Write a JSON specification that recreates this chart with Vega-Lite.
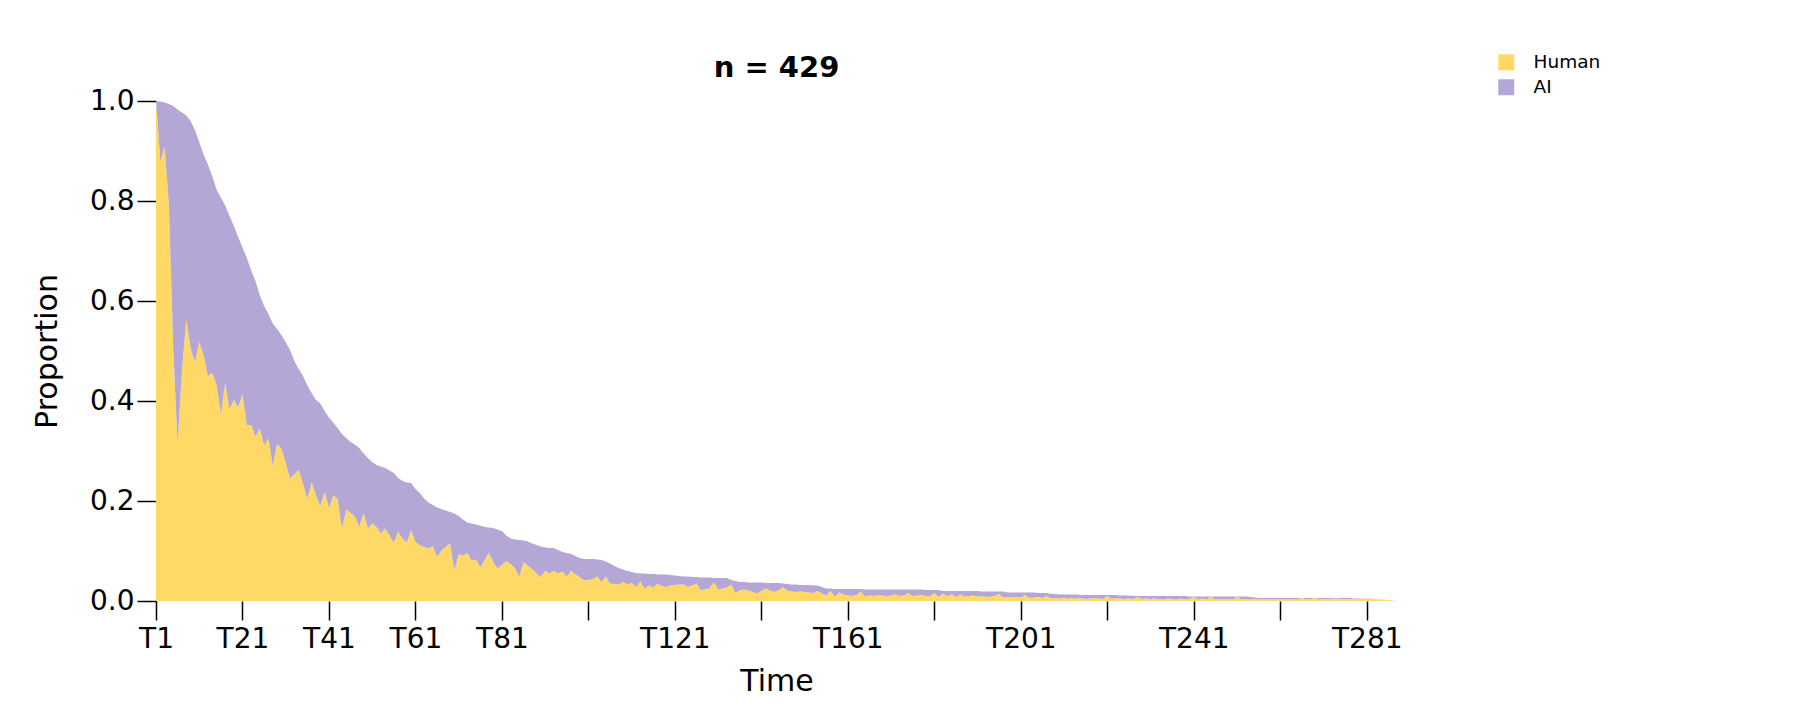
{
"$schema": "https://vega.github.io/schema/vega-lite/v6.json",
"width": 1241, "height": 500,
"autosize": "none",
"padding": {"left": 156, "top": 101, "right": 403, "bottom": 119},
"background": "white",
"config": {"view": {"stroke": null}},
"title": {"text": "n = 429", "font": "DejaVu Sans", "fontSize": 29, "fontWeight": "bold", "color": "black", "anchor": "middle", "frame": "group", "offset": -30},
"data": {"values": [
{"t":1,"Human":1.000,"AI":0.000},{"t":2,"Human":0.880,"AI":0.119},{"t":3,"Human":0.908,"AI":0.089},{"t":4,"Human":0.790,"AI":0.204},{"t":5,"Human":0.500,"AI":0.490},
{"t":6,"Human":0.315,"AI":0.668},{"t":7,"Human":0.460,"AI":0.517},{"t":8,"Human":0.563,"AI":0.408},{"t":9,"Human":0.505,"AI":0.455},{"t":10,"Human":0.478,"AI":0.464},
{"t":11,"Human":0.518,"AI":0.400},{"t":12,"Human":0.492,"AI":0.401},{"t":13,"Human":0.450,"AI":0.423},{"t":14,"Human":0.456,"AI":0.394},{"t":15,"Human":0.432,"AI":0.391},
{"t":16,"Human":0.373,"AI":0.434},{"t":17,"Human":0.436,"AI":0.355},{"t":18,"Human":0.384,"AI":0.386},{"t":19,"Human":0.402,"AI":0.348},{"t":20,"Human":0.387,"AI":0.341},
{"t":21,"Human":0.414,"AI":0.293},{"t":22,"Human":0.352,"AI":0.334},{"t":23,"Human":0.352,"AI":0.310},{"t":24,"Human":0.328,"AI":0.312},{"t":25,"Human":0.345,"AI":0.267},
{"t":26,"Human":0.311,"AI":0.279},{"t":27,"Human":0.325,"AI":0.249},{"t":28,"Human":0.270,"AI":0.285},{"t":29,"Human":0.314,"AI":0.230},{"t":30,"Human":0.305,"AI":0.227},
{"t":31,"Human":0.276,"AI":0.242},{"t":32,"Human":0.245,"AI":0.257},{"t":33,"Human":0.253,"AI":0.227},{"t":34,"Human":0.262,"AI":0.202},{"t":35,"Human":0.235,"AI":0.215},
{"t":36,"Human":0.204,"AI":0.227},{"t":37,"Human":0.238,"AI":0.178},{"t":38,"Human":0.211,"AI":0.191},{"t":39,"Human":0.190,"AI":0.205},{"t":40,"Human":0.218,"AI":0.162},
{"t":41,"Human":0.186,"AI":0.181},{"t":42,"Human":0.211,"AI":0.146},{"t":43,"Human":0.204,"AI":0.142},{"t":44,"Human":0.145,"AI":0.189},{"t":45,"Human":0.183,"AI":0.143},
{"t":46,"Human":0.176,"AI":0.142},{"t":47,"Human":0.169,"AI":0.144},{"t":48,"Human":0.148,"AI":0.158},{"t":49,"Human":0.176,"AI":0.119},{"t":50,"Human":0.145,"AI":0.141},
{"t":51,"Human":0.155,"AI":0.123},{"t":52,"Human":0.148,"AI":0.124},{"t":53,"Human":0.135,"AI":0.134},{"t":54,"Human":0.145,"AI":0.121},{"t":55,"Human":0.131,"AI":0.130},
{"t":56,"Human":0.117,"AI":0.139},{"t":57,"Human":0.138,"AI":0.108},{"t":58,"Human":0.125,"AI":0.115},{"t":59,"Human":0.117,"AI":0.120},{"t":60,"Human":0.142,"AI":0.094},
{"t":61,"Human":0.118,"AI":0.106},{"t":62,"Human":0.112,"AI":0.104},{"t":63,"Human":0.108,"AI":0.097},{"t":64,"Human":0.105,"AI":0.092},{"t":65,"Human":0.110,"AI":0.082},
{"t":66,"Human":0.088,"AI":0.099},{"t":67,"Human":0.101,"AI":0.083},{"t":68,"Human":0.108,"AI":0.073},{"t":69,"Human":0.115,"AI":0.063},{"t":70,"Human":0.061,"AI":0.114},
{"t":71,"Human":0.093,"AI":0.077},{"t":72,"Human":0.091,"AI":0.072},{"t":73,"Human":0.096,"AI":0.061},{"t":74,"Human":0.081,"AI":0.074},{"t":75,"Human":0.083,"AI":0.070},
{"t":76,"Human":0.067,"AI":0.084},{"t":77,"Human":0.082,"AI":0.066},{"t":78,"Human":0.096,"AI":0.051},{"t":79,"Human":0.078,"AI":0.068},{"t":80,"Human":0.065,"AI":0.078},
{"t":81,"Human":0.072,"AI":0.068},{"t":82,"Human":0.080,"AI":0.051},{"t":83,"Human":0.074,"AI":0.051},{"t":84,"Human":0.066,"AI":0.057},{"t":85,"Human":0.048,"AI":0.074},
{"t":86,"Human":0.078,"AI":0.043},{"t":87,"Human":0.071,"AI":0.048},{"t":88,"Human":0.063,"AI":0.052},{"t":89,"Human":0.055,"AI":0.057},{"t":90,"Human":0.048,"AI":0.061},
{"t":91,"Human":0.061,"AI":0.046},{"t":92,"Human":0.055,"AI":0.051},{"t":93,"Human":0.060,"AI":0.046},{"t":94,"Human":0.055,"AI":0.047},{"t":95,"Human":0.059,"AI":0.039},
{"t":96,"Human":0.049,"AI":0.047},{"t":97,"Human":0.061,"AI":0.033},{"t":98,"Human":0.053,"AI":0.037},{"t":99,"Human":0.048,"AI":0.038},{"t":100,"Human":0.041,"AI":0.043},
{"t":101,"Human":0.042,"AI":0.042},{"t":102,"Human":0.044,"AI":0.040},{"t":103,"Human":0.049,"AI":0.034},{"t":104,"Human":0.038,"AI":0.044},{"t":105,"Human":0.049,"AI":0.030},
{"t":106,"Human":0.035,"AI":0.040},{"t":107,"Human":0.034,"AI":0.036},{"t":108,"Human":0.033,"AI":0.033},{"t":109,"Human":0.038,"AI":0.025},{"t":110,"Human":0.033,"AI":0.027},
{"t":111,"Human":0.036,"AI":0.022},{"t":112,"Human":0.028,"AI":0.028},{"t":113,"Human":0.039,"AI":0.016},{"t":114,"Human":0.025,"AI":0.030},{"t":115,"Human":0.031,"AI":0.023},
{"t":116,"Human":0.027,"AI":0.027},{"t":117,"Human":0.035,"AI":0.018},{"t":118,"Human":0.030,"AI":0.023},{"t":119,"Human":0.028,"AI":0.025},{"t":120,"Human":0.031,"AI":0.021},
{"t":121,"Human":0.032,"AI":0.019},{"t":122,"Human":0.033,"AI":0.017},{"t":123,"Human":0.033,"AI":0.016},{"t":124,"Human":0.028,"AI":0.021},{"t":125,"Human":0.031,"AI":0.017},
{"t":126,"Human":0.035,"AI":0.013},{"t":127,"Human":0.021,"AI":0.026},{"t":128,"Human":0.024,"AI":0.023},{"t":129,"Human":0.025,"AI":0.022},{"t":130,"Human":0.038,"AI":0.008},
{"t":131,"Human":0.023,"AI":0.023},{"t":132,"Human":0.025,"AI":0.021},{"t":133,"Human":0.027,"AI":0.019},{"t":134,"Human":0.033,"AI":0.009},{"t":135,"Human":0.016,"AI":0.024},
{"t":136,"Human":0.021,"AI":0.017},{"t":137,"Human":0.023,"AI":0.015},{"t":138,"Human":0.021,"AI":0.016},{"t":139,"Human":0.018,"AI":0.019},{"t":140,"Human":0.015,"AI":0.022},
{"t":141,"Human":0.020,"AI":0.017},{"t":142,"Human":0.025,"AI":0.011},{"t":143,"Human":0.021,"AI":0.015},{"t":144,"Human":0.018,"AI":0.018},{"t":145,"Human":0.022,"AI":0.014},
{"t":146,"Human":0.028,"AI":0.007},{"t":147,"Human":0.021,"AI":0.013},{"t":148,"Human":0.019,"AI":0.014},{"t":149,"Human":0.018,"AI":0.015},{"t":150,"Human":0.019,"AI":0.013},
{"t":151,"Human":0.018,"AI":0.014},{"t":152,"Human":0.017,"AI":0.015},{"t":153,"Human":0.016,"AI":0.015},{"t":154,"Human":0.020,"AI":0.011},{"t":155,"Human":0.015,"AI":0.013},
{"t":156,"Human":0.011,"AI":0.014},{"t":157,"Human":0.020,"AI":0.005},{"t":158,"Human":0.009,"AI":0.015},{"t":159,"Human":0.017,"AI":0.007},{"t":160,"Human":0.013,"AI":0.011},
{"t":161,"Human":0.011,"AI":0.013},{"t":162,"Human":0.010,"AI":0.014},{"t":163,"Human":0.012,"AI":0.012},{"t":164,"Human":0.019,"AI":0.005},{"t":165,"Human":0.009,"AI":0.014},
{"t":166,"Human":0.011,"AI":0.012},{"t":167,"Human":0.010,"AI":0.013},{"t":168,"Human":0.012,"AI":0.011},{"t":169,"Human":0.011,"AI":0.012},{"t":170,"Human":0.009,"AI":0.014},
{"t":171,"Human":0.012,"AI":0.011},{"t":172,"Human":0.013,"AI":0.010},{"t":173,"Human":0.010,"AI":0.013},{"t":174,"Human":0.011,"AI":0.012},{"t":175,"Human":0.016,"AI":0.007},
{"t":176,"Human":0.010,"AI":0.013},{"t":177,"Human":0.011,"AI":0.012},{"t":178,"Human":0.012,"AI":0.011},{"t":179,"Human":0.010,"AI":0.012},{"t":180,"Human":0.009,"AI":0.013},
{"t":181,"Human":0.016,"AI":0.006},{"t":182,"Human":0.008,"AI":0.014},{"t":183,"Human":0.015,"AI":0.005},{"t":184,"Human":0.009,"AI":0.011},{"t":185,"Human":0.014,"AI":0.006},
{"t":186,"Human":0.008,"AI":0.012},{"t":187,"Human":0.013,"AI":0.007},{"t":188,"Human":0.009,"AI":0.011},{"t":189,"Human":0.010,"AI":0.010},{"t":190,"Human":0.011,"AI":0.009},
{"t":191,"Human":0.009,"AI":0.011},{"t":192,"Human":0.010,"AI":0.009},{"t":193,"Human":0.008,"AI":0.011},{"t":194,"Human":0.009,"AI":0.010},{"t":195,"Human":0.010,"AI":0.009},
{"t":196,"Human":0.014,"AI":0.005},{"t":197,"Human":0.007,"AI":0.012},{"t":198,"Human":0.008,"AI":0.009},{"t":199,"Human":0.007,"AI":0.010},{"t":200,"Human":0.008,"AI":0.009},
{"t":201,"Human":0.007,"AI":0.010},{"t":202,"Human":0.012,"AI":0.005},{"t":203,"Human":0.006,"AI":0.011},{"t":204,"Human":0.007,"AI":0.010},{"t":205,"Human":0.008,"AI":0.008},
{"t":206,"Human":0.006,"AI":0.010},{"t":207,"Human":0.010,"AI":0.006},{"t":208,"Human":0.005,"AI":0.009},{"t":209,"Human":0.006,"AI":0.008},{"t":210,"Human":0.005,"AI":0.008},
{"t":211,"Human":0.007,"AI":0.006},{"t":212,"Human":0.005,"AI":0.008},{"t":213,"Human":0.006,"AI":0.007},{"t":214,"Human":0.005,"AI":0.008},{"t":215,"Human":0.006,"AI":0.006},
{"t":216,"Human":0.004,"AI":0.008},{"t":217,"Human":0.005,"AI":0.007},{"t":218,"Human":0.006,"AI":0.006},{"t":219,"Human":0.005,"AI":0.007},{"t":220,"Human":0.004,"AI":0.008},
{"t":221,"Human":0.010,"AI":0.002},{"t":222,"Human":0.004,"AI":0.008},{"t":223,"Human":0.006,"AI":0.006},{"t":224,"Human":0.005,"AI":0.006},{"t":225,"Human":0.004,"AI":0.007},
{"t":226,"Human":0.005,"AI":0.006},{"t":227,"Human":0.004,"AI":0.006},{"t":228,"Human":0.008,"AI":0.002},{"t":229,"Human":0.004,"AI":0.006},{"t":230,"Human":0.005,"AI":0.005},
{"t":231,"Human":0.004,"AI":0.006},{"t":232,"Human":0.005,"AI":0.005},{"t":233,"Human":0.004,"AI":0.006},{"t":234,"Human":0.003,"AI":0.007},{"t":235,"Human":0.005,"AI":0.005},
{"t":236,"Human":0.004,"AI":0.006},{"t":237,"Human":0.003,"AI":0.007},{"t":238,"Human":0.005,"AI":0.005},{"t":239,"Human":0.003,"AI":0.007},{"t":240,"Human":0.004,"AI":0.005},
{"t":241,"Human":0.008,"AI":0.001},{"t":242,"Human":0.003,"AI":0.006},{"t":243,"Human":0.005,"AI":0.004},{"t":244,"Human":0.003,"AI":0.006},{"t":245,"Human":0.008,"AI":0.001},
{"t":246,"Human":0.003,"AI":0.006},{"t":247,"Human":0.004,"AI":0.005},{"t":248,"Human":0.003,"AI":0.006},{"t":249,"Human":0.004,"AI":0.005},{"t":250,"Human":0.003,"AI":0.006},
{"t":251,"Human":0.008,"AI":0.001},{"t":252,"Human":0.003,"AI":0.006},{"t":253,"Human":0.004,"AI":0.005},{"t":254,"Human":0.003,"AI":0.005},{"t":255,"Human":0.004,"AI":0.003},
{"t":256,"Human":0.003,"AI":0.003},{"t":257,"Human":0.004,"AI":0.002},{"t":258,"Human":0.003,"AI":0.003},{"t":259,"Human":0.004,"AI":0.002},{"t":260,"Human":0.003,"AI":0.003},
{"t":261,"Human":0.003,"AI":0.003},{"t":262,"Human":0.004,"AI":0.002},{"t":263,"Human":0.003,"AI":0.003},{"t":264,"Human":0.004,"AI":0.002},{"t":265,"Human":0.003,"AI":0.003},
{"t":266,"Human":0.006,"AI":0.000},{"t":267,"Human":0.003,"AI":0.003},{"t":268,"Human":0.004,"AI":0.002},{"t":269,"Human":0.006,"AI":0.000},{"t":270,"Human":0.003,"AI":0.003},
{"t":271,"Human":0.004,"AI":0.002},{"t":272,"Human":0.004,"AI":0.002},{"t":273,"Human":0.004,"AI":0.002},{"t":274,"Human":0.005,"AI":0.001},{"t":275,"Human":0.004,"AI":0.002},
{"t":276,"Human":0.004,"AI":0.002},{"t":277,"Human":0.004,"AI":0.002},{"t":278,"Human":0.004,"AI":0.001},{"t":279,"Human":0.004,"AI":0.001},{"t":280,"Human":0.005,"AI":0.000},
{"t":281,"Human":0.004,"AI":0.001},{"t":282,"Human":0.005,"AI":0.000},{"t":283,"Human":0.004,"AI":0.000},{"t":284,"Human":0.003,"AI":0.000},{"t":285,"Human":0.003,"AI":0.000},
{"t":286,"Human":0.002,"AI":0.000},{"t":287,"Human":0.001,"AI":0.000},{"t":288,"Human":0.000,"AI":0.000}
]},
"transform": [{"fold": ["Human", "AI"], "as": ["who", "p"]}],
"mark": {"type": "area", "interpolate": "linear"},
"encoding": {
  "x": {"field": "t", "type": "quantitative",
    "scale": {"domain": [1, 288], "nice": false, "zero": false},
    "axis": {"values": [1,21,41,61,81,101,121,141,161,181,201,221,241,261,281],
      "labelExpr": "indexof([101,141,181,221,261], datum.value) >= 0 ? '' : 'T' + datum.value",
      "grid": false, "domain": false, "tickSize": 19, "tickColor": "black", "tickWidth": 1.5,
      "labelFont": "DejaVu Sans", "labelFontSize": 28, "labelColor": "black", "labelPadding": 5,
      "labelOverlap": false, "labelFlush": false,
      "title": "Time", "titleFont": "DejaVu Sans", "titleFontSize": 30, "titleFontWeight": "normal", "titleColor": "black", "titlePadding": 13}},
  "y": {"field": "p", "type": "quantitative", "stack": "zero",
    "scale": {"domain": [0, 1], "nice": false},
    "axis": {"values": [0, 0.2, 0.4, 0.6, 0.8, 1.0], "format": ".1f",
      "grid": false, "domain": false, "tickSize": 19, "tickColor": "black", "tickWidth": 1.5,
      "labelFont": "DejaVu Sans", "labelFontSize": 28, "labelColor": "black", "labelPadding": 3,
      "labelOverlap": false, "labelFlush": false,
      "title": "Proportion", "titleFont": "DejaVu Sans", "titleFontSize": 30, "titleFontWeight": "normal", "titleColor": "black", "titlePadding": 27}},
  "color": {"field": "who", "type": "nominal",
    "scale": {"domain": ["Human", "AI"], "range": ["#FFD966", "#B4A7D6"]},
    "legend": {"title": null, "orient": "none", "legendX": 1341, "legendY": -48,
      "symbolType": "square", "symbolSize": 256, "symbolStrokeWidth": 0, "symbolOpacity": 1,
      "labelFont": "DejaVu Sans", "labelFontSize": 18.5, "labelColor": "black", "labelOffset": 18,
      "rowPadding": 6, "padding": 0}},
  "order": {"field": "who", "sort": "descending"}
}
}
